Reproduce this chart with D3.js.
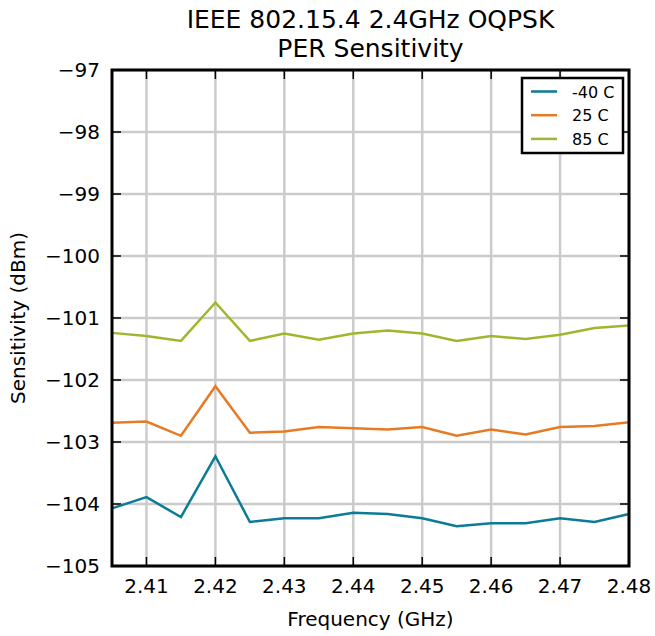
<!DOCTYPE html>
<meta charset="utf-8">
<script src="https://d3js.org/d3.v7.min.js"></script>
<style>
body { margin: 0; background: #fff; }
text { font-family: "DejaVu Sans", sans-serif; }
</style>
<div id="chart"></div>
<script>
// frequencies (GHz)
var freqs = [2.405, 2.41, 2.415, 2.42, 2.425, 2.43, 2.435, 2.44, 2.445, 2.45, 2.455, 2.46, 2.465, 2.47, 2.475, 2.48];
// sensitivity (dBm) per temperature
var minus40 = [-104.07, -103.89, -104.21, -103.23, -104.29, -104.23, -104.23, -104.14, -104.16, -104.23, -104.36, -104.31, -104.31, -104.23, -104.29, -104.16];
var plus25  = [-102.69, -102.67, -102.90, -102.10, -102.85, -102.83, -102.76, -102.78, -102.80, -102.76, -102.90, -102.80, -102.88, -102.76, -102.74, -102.68];
var plus85  = [-101.24, -101.29, -101.37, -100.75, -101.37, -101.25, -101.35, -101.25, -101.20, -101.25, -101.37, -101.29, -101.34, -101.27, -101.16, -101.12];
var seriesNames = ["-40 C", "25 C", "85 C"];
var seriesColors = ["#0b7b98", "#e67b25", "#9db82e"];
var xTicks = [2.41, 2.42, 2.43, 2.44, 2.45, 2.46, 2.47, 2.48];
var yTicks = [-97, -98, -99, -100, -101, -102, -103, -104, -105];

var series = [minus40, plus25, plus85].map(function(v, i) {
  return { name: seriesNames[i], color: seriesColors[i], values: v.map(function(d, j) { return { f: freqs[j], s: d }; }) };
});

var W = 655, H = 636;
var margin = {top: 70, right: 26, bottom: 70, left: 112};
var width = W - margin.left - margin.right,
    height = H - margin.top - margin.bottom;

var svg = d3.select("#chart").append("svg")
  .attr("width", W).attr("height", H);
var g = svg.append("g").attr("transform", "translate(" + margin.left + "," + margin.top + ")");

var x = d3.scaleLinear().domain([2.405, 2.48]).range([0, width]);
var y = d3.scaleLinear().domain([-105, -97]).range([height, 0]);

// grid
g.selectAll(".vgrid").data(xTicks).enter().append("line")
  .attr("x1", d => x(d)).attr("x2", d => x(d))
  .attr("y1", 0).attr("y2", height)
  .attr("stroke", "#cbcbcb").attr("stroke-width", 2.5);
g.selectAll(".hgrid").data(yTicks).enter().append("line")
  .attr("x1", 0).attr("x2", width)
  .attr("y1", d => y(d)).attr("y2", d => y(d))
  .attr("stroke", "#cbcbcb").attr("stroke-width", 2.5);

// inward ticks on all sides
var tl = 9;
xTicks.forEach(function(t) {
  g.append("line").attr("x1", x(t)).attr("x2", x(t)).attr("y1", height).attr("y2", height - tl).attr("stroke", "#000").attr("stroke-width", 1.5);
  g.append("line").attr("x1", x(t)).attr("x2", x(t)).attr("y1", 0).attr("y2", tl).attr("stroke", "#000").attr("stroke-width", 1.5);
});
yTicks.forEach(function(t) {
  g.append("line").attr("x1", 0).attr("x2", tl).attr("y1", y(t)).attr("y2", y(t)).attr("stroke", "#000").attr("stroke-width", 1.5);
  g.append("line").attr("x1", width).attr("x2", width - tl).attr("y1", y(t)).attr("y2", y(t)).attr("stroke", "#000").attr("stroke-width", 1.5);
});

// lines
var line = d3.line().x(d => x(d.f)).y(d => y(d.s));
g.selectAll(".series").data(series).enter().append("path")
  .attr("d", d => line(d.values))
  .attr("fill", "none")
  .attr("stroke", d => d.color)
  .attr("stroke-width", 2.5);

// frame
g.append("rect").attr("width", width).attr("height", height)
  .attr("fill", "none").attr("stroke", "#000").attr("stroke-width", 3);

// tick labels
g.selectAll(".xl").data(xTicks).enter().append("text")
  .attr("x", d => x(d)).attr("y", height + 27)
  .attr("text-anchor", "middle").attr("font-size", 20)
  .text(d => d3.format(".2f")(d));
g.selectAll(".yl").data(yTicks).enter().append("text")
  .attr("x", -12).attr("y", d => y(d) + 7)
  .attr("text-anchor", "end").attr("font-size", 20)
  .text(d => "\u2212" + Math.abs(d));

// axis titles
g.append("text").attr("x", width / 2).attr("y", height + 60)
  .attr("text-anchor", "middle").attr("font-size", 20).text("Frequency (GHz)");
g.append("text").attr("transform", "translate(-87," + (height / 2) + ") rotate(-90)")
  .attr("text-anchor", "middle").attr("font-size", 20).text("Sensitivity (dBm)");

// title
svg.append("text").attr("x", margin.left + width / 2).attr("y", 28)
  .attr("text-anchor", "middle").attr("font-size", 25).text("IEEE 802.15.4 2.4GHz OQPSK");
svg.append("text").attr("x", margin.left + width / 2).attr("y", 57)
  .attr("text-anchor", "middle").attr("font-size", 25).text("PER Sensitivity");

// legend
var lg = svg.append("g").attr("transform", "translate(522,78)");
lg.append("rect").attr("width", 101).attr("height", 75)
  .attr("fill", "#fff").attr("stroke", "#000").attr("stroke-width", 2.5);
series.forEach(function(s, i) {
  var yy = 13.5 + i * 23.7;
  lg.append("line").attr("x1", 9).attr("x2", 35).attr("y1", yy).attr("y2", yy)
    .attr("stroke", s.color).attr("stroke-width", 2.5);
  lg.append("text").attr("x", 50).attr("y", yy + 6).attr("font-size", 16).text(s.name);
});
</script>
